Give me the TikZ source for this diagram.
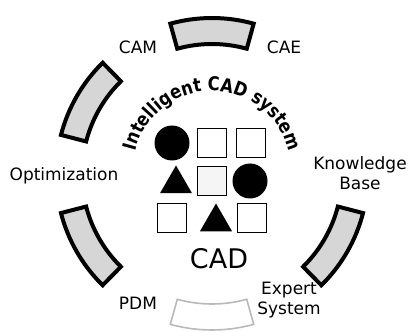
\documentclass[tikz,border=0pt]{standalone}
\usepackage{fontspec}
\setmainfont{DejaVu Sans}
\newfontfamily\titlefont{DejaVu Sans}[FakeStretch=0.86]
\usetikzlibrary{decorations.text,shapes.geometric}
\begin{document}
\begin{tikzpicture}[x=1pt,y=1pt,
  sectorbox/.style={draw=black,line width=4pt,fill=gray!32,line join=miter},
  faintsector/.style={draw=gray!55,line width=1.6pt,fill=white},
  lbl/.style={font=\fontsize{17}{20}\selectfont,inner sep=0pt,align=center},
  sq/.style={draw=black,line width=1.8pt,minimum size=29pt,inner sep=0pt,fill=white},
  dot/.style={circle,fill=black,minimum size=35pt,inner sep=0pt},
  tri/.style={regular polygon,regular polygon sides=3,fill=black,minimum size=37pt,inner sep=0pt}]
\useasboundingbox (0,0) rectangle (409,332);
\coordinate (ring) at (212,158);
\begin{scope}[shift={(212,158)}]
\foreach \a [evaluate=\a as \s using \a-15.5, evaluate=\a as \e using \a+15.5] in {90,150,210,330}{
  \draw[sectorbox] (\s:156pt) arc[start angle=\s,end angle=\e,radius=156pt] -- (\e:130pt) arc[start angle=\e,end angle=\s,radius=130pt] -- cycle;
}
\draw[faintsector] (254.5:156pt) arc[start angle=254.5,end angle=285.5,radius=156pt] -- (285.5:130pt) arc[start angle=285.5,end angle=254.5,radius=130pt] -- cycle;
\end{scope}
% curved title
\path[decorate,decoration={text along path,text align=center,
  text={|\titlefont\bfseries\fontsize{19}{19}\selectfont|Intelligent CAD system}}]
  (212,162) ++(174:79pt) arc[start angle=174,end angle=6,radius=79pt];
% outer labels
\node[lbl] (cam) at (138,285) {CAM};
\node[lbl] (cae) at (284,285) {CAE};
\node[lbl] (opt) at (64,156) {Optimization};
\node[lbl] (kb) at (360,159) {Knowledge\\Base};
\node[lbl] (pdm) at (138,29) {PDM};
\node[lbl] (es) at (289,32) {Expert\\System};
% grid
\node[dot] (g11) at (172,189) {};
\node[sq] (g12) at (212,189) {};
\node[sq] (g13) at (251,189) {};
\node[tri] (g21) at (176,148) {};
\node[sq,fill=gray!8] (g22) at (212,151) {};
\node[dot] (g23) at (250,151) {};
\node[sq] (g31) at (172,114) {};
\node[tri] (g32) at (216,110) {};
\node[sq] (g33) at (252,114) {};
\node[font=\fontsize{27}{29}\selectfont,inner sep=0pt] (cad) at (219,73) {CAD};
\end{tikzpicture}
\end{document}
